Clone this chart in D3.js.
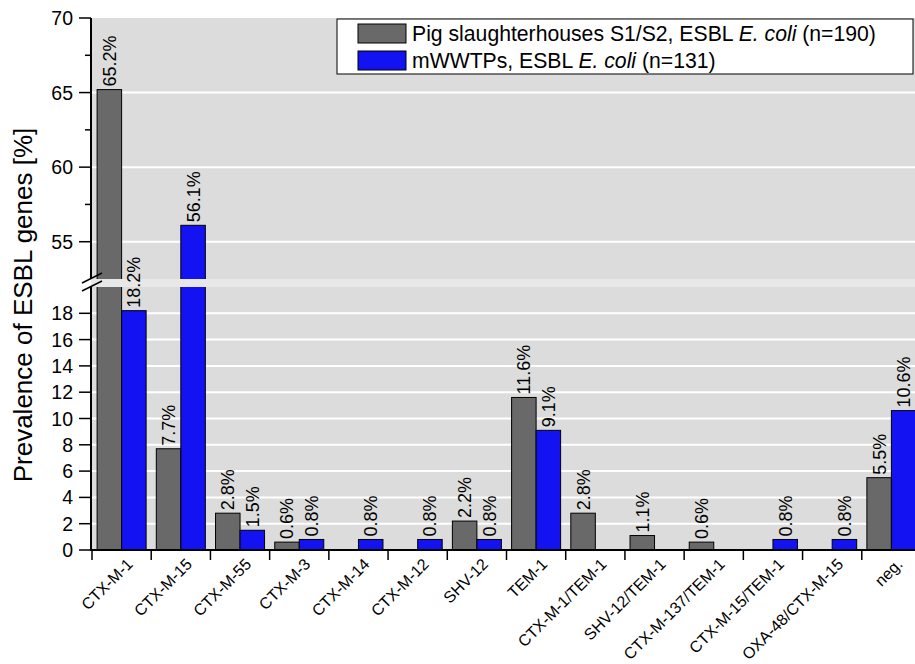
<!DOCTYPE html>
<html>
<head>
<meta charset="utf-8">
<script src="https://cdn.jsdelivr.net/npm/d3@7/dist/d3.min.js"></script>
<style>
  body { margin: 0; background: #fff; }
  svg { display: block; }
  text { font-family: "Liberation Sans", Arial, Helvetica, sans-serif; fill: #000; }
</style>
</head>
<body>
<svg id="chart" width="915" height="664"></svg>
<script>
// ESBL gene prevalence by isolate source
const categories = ["CTX-M-1", "CTX-M-15", "CTX-M-55", "CTX-M-3", "CTX-M-14", "CTX-M-12",
  "SHV-12", "TEM-1", "CTX-M-1/TEM-1", "SHV-12/TEM-1", "CTX-M-137/TEM-1",
  "CTX-M-15/TEM-1", "OXA-48/CTX-M-15", "neg."];
const pigValues  = [65.2, 7.7, 2.8, 0.6, 0, 0, 2.2, 11.6, 2.8, 1.1, 0.6, 0, 0, 5.5];
const wwtpValues = [18.2, 56.1, 1.5, 0.8, 0.8, 0.8, 0.8, 9.1, 0, 0, 0, 0.8, 0.8, 10.6];
const seriesKeys = ["pig", "wwtp"];
const seriesColors = ["#696969", "#1212f2"];
const lowerTicks = [0, 2, 4, 6, 8, 10, 12, 14, 16, 18];
const upperTicks = [55, 60, 65, 70];
const upperMinorTicks = [57.5, 62.5, 67.5];
const lowerDomain = [0, 20];
const upperDomain = [52.5, 70];
const yTitle = "Prevalence of ESBL genes [%]";

const svg = d3.select("#chart");
const pLeft = 92, pRight = 921, pTop = 18, pBottom = 550;
const lowerTop = 287, upperBottom = 279;

const x = d3.scaleBand().domain(categories).range([pLeft, pRight]).padding(0);
const xs = d3.scaleBand().domain(seriesKeys).range([0, x.bandwidth()])
  .paddingInner(0).paddingOuter(0.208);
const yLow = d3.scaleLinear().domain(lowerDomain).range([pBottom, lowerTop]);
const yHigh = d3.scaleLinear().domain(upperDomain).range([upperBottom, pTop]);
const y = v => v <= lowerDomain[1] ? yLow(v) : yHigh(v);

const rows = categories.map((c, i) => ({ cat: c, pig: pigValues[i], wwtp: wwtpValues[i] }));
const bars = [];
rows.forEach(r => seriesKeys.forEach((k, j) => bars.push({ cat: r.cat, key: k, value: r[k], color: seriesColors[j] })));
const shown = bars.filter(d => d.value > 0);

// plot background
svg.append("rect").attr("x", pLeft).attr("y", pTop)
  .attr("width", pRight - pLeft).attr("height", pBottom - pTop).attr("fill", "#dcdcdc");

// grid lines
const grid = svg.append("g").attr("stroke", "#fff").attr("stroke-width", 2);
grid.selectAll(".gl").data(lowerTicks.filter(t => t > 0)).join("line")
  .attr("x1", pLeft).attr("x2", pRight).attr("y1", d => yLow(d)).attr("y2", d => yLow(d));
grid.selectAll(".gh").data(upperTicks.filter(t => t < upperDomain[1])).join("line")
  .attr("x1", pLeft).attr("x2", pRight).attr("y1", d => yHigh(d)).attr("y2", d => yHigh(d));

// bars
svg.append("g").selectAll("rect").data(shown).join("rect")
  .attr("x", d => x(d.cat) + xs(d.key))
  .attr("y", d => y(d.value))
  .attr("width", xs.bandwidth())
  .attr("height", d => pBottom - y(d.value))
  .attr("fill", d => d.color)
  .attr("stroke", "#000").attr("stroke-width", 1);

// axis break band
svg.append("rect").attr("x", pLeft - 1).attr("y", upperBottom)
  .attr("width", pRight - pLeft + 1).attr("height", lowerTop - upperBottom).attr("fill", "#e8e8e8");

// y axis (two segments)
const axisG = svg.append("g").attr("stroke", "#000");
axisG.append("line").attr("x1", pLeft - 1).attr("x2", pLeft - 1).attr("y1", pBottom + 1).attr("y2", lowerTop).attr("stroke-width", 2);
axisG.append("line").attr("x1", pLeft - 1).attr("x2", pLeft - 1).attr("y1", upperBottom).attr("y2", pTop).attr("stroke-width", 2);
axisG.selectAll(".tl").data(lowerTicks).join("line")
  .attr("x1", pLeft - 13).attr("x2", pLeft - 1).attr("y1", d => yLow(d)).attr("y2", d => yLow(d)).attr("stroke-width", 1.5);
axisG.selectAll(".th").data(upperTicks).join("line")
  .attr("x1", pLeft - 13).attr("x2", pLeft - 1).attr("y1", d => yHigh(d)).attr("y2", d => yHigh(d)).attr("stroke-width", 1.5);
axisG.selectAll(".tm").data(upperMinorTicks).join("line")
  .attr("x1", pLeft - 7).attr("x2", pLeft - 1).attr("y1", d => yHigh(d)).attr("y2", d => yHigh(d)).attr("stroke-width", 1.5);

// break marks
const bm = svg.append("g").attr("stroke", "#000").attr("stroke-width", 1.5);
bm.append("line").attr("x1", pLeft - 10).attr("y1", upperBottom + 4).attr("x2", pLeft + 10).attr("y2", upperBottom - 6);
bm.append("line").attr("x1", pLeft - 10).attr("y1", lowerTop + 4).attr("x2", pLeft + 10).attr("y2", lowerTop - 6);

// y tick labels
const yl = svg.append("g").attr("font-size", 19.5).attr("text-anchor", "end");
yl.selectAll(".ll").data(lowerTicks).join("text")
  .attr("x", pLeft - 19).attr("y", d => yLow(d)).attr("dy", "0.36em").text(d => d);
yl.selectAll(".lh").data(upperTicks).join("text")
  .attr("x", pLeft - 19).attr("y", d => yHigh(d)).attr("dy", "0.36em").text(d => d);

// y title
svg.append("text").attr("font-size", 26).attr("text-anchor", "middle")
  .attr("transform", `translate(32,305) rotate(-90)`).text(yTitle);

// x axis
const xa = svg.append("g").attr("stroke", "#000");
xa.append("line").attr("x1", pLeft - 2).attr("x2", pRight).attr("y1", pBottom).attr("y2", pBottom).attr("stroke-width", 2);
const boundaries = categories.map(c => x(c)).concat([x(categories[categories.length - 1]) + x.bandwidth()]);
xa.selectAll(".xt").data(boundaries).join("line")
  .attr("x1", d => d).attr("x2", d => d).attr("y1", pBottom).attr("y2", pBottom + 10).attr("stroke-width", 1.5);

// x tick labels
svg.append("g").attr("font-size", 16).attr("text-anchor", "end")
  .selectAll("text").data(categories).join("text")
  .attr("transform", d => `translate(${x(d) + x.bandwidth() / 2 + 4},${pBottom + 7}) rotate(-45)`)
  .attr("dy", "0.72em")
  .text(d => d);

// value labels
svg.append("g").attr("font-size", 18).attr("text-anchor", "start")
  .selectAll("text").data(shown).join("text")
  .attr("transform", d => `translate(${x(d.cat) + xs(d.key) + xs.bandwidth() / 2},${y(d.value) - 3}) rotate(-90)`)
  .attr("dy", "0.36em")
  .text(d => d.value.toFixed(1) + "%");

// legend
const lg = svg.append("g");
lg.append("rect").attr("x", 337).attr("y", 19).attr("width", 576).attr("height", 55)
  .attr("fill", "#fff").attr("stroke", "#000").attr("stroke-width", 1);
const legendItems = [
  { color: seriesColors[0], parts: [["Pig slaughterhouses S1/S2, ESBL ", "normal"], ["E. coli", "italic"], [" (n=190)", "normal"]] },
  { color: seriesColors[1], parts: [["mWWTPs, ESBL ", "normal"], ["E. coli", "italic"], [" (n=131)", "normal"]] }
];
legendItems.forEach((it, i) => {
  const cy = 33.5 + i * 27;
  lg.append("rect").attr("x", 358).attr("y", cy - 9.5).attr("width", 48).attr("height", 19)
    .attr("fill", it.color).attr("stroke", "#000").attr("stroke-width", 1);
  const t = lg.append("text").attr("x", 412).attr("y", cy).attr("dy", "0.36em").attr("font-size", 21.2);
  it.parts.forEach(p => t.append("tspan").attr("font-style", p[1]).text(p[0]));
});
</script>
</body>
</html>
